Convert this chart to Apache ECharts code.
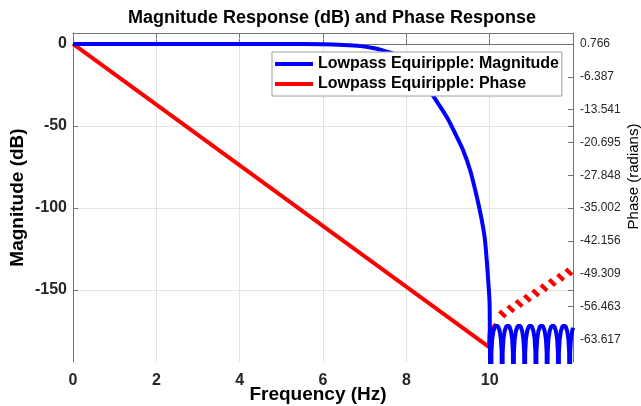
<!DOCTYPE html>
<html><head><meta charset="utf-8">
<script src="https://cdn.jsdelivr.net/npm/echarts@6/dist/echarts.min.js"></script>
<style>html,body{margin:0;padding:0;background:#fff}#c{width:641px;height:406px}</style>
</head><body><div id="c"></div>
<script>
// ---- data ----
const passFreq = [0,1,2,3,4,5,5.5,6.0,6.5,6.9,7.2,7.4,7.6,7.85,8.1,8.35,8.64,8.97,9.2,9.36,9.53,9.69,9.8,9.88,9.93,9.97,10.0,10.03];
const passDb = [0,0,0,0,0,0,0,-0.1,-0.6,-1.3,-2.4,-3.6,-5.2,-7.5,-12,-20,-31.5,-44.5,-56,-64.6,-76.8,-93,-106,-118,-132,-146,-160,-300];
const stopFreq = [10.03,10.042,10.06,10.09,10.13,10.165,10.2,10.24,10.27,10.288,
  10.30,10.312,10.33,10.36,10.40,10.435,10.47,10.51,10.54,10.558,
  10.57,10.582,10.60,10.63,10.67,10.705,10.74,10.78,10.81,10.828,
  10.84,10.852,10.87,10.90,10.94,10.975,11.01,11.05,11.08,11.098,
  11.11,11.122,11.14,11.17,11.21,11.245,11.28,11.32,11.35,11.368,
  11.38,11.392,11.41,11.44,11.48,11.515,11.55,11.59,11.62,11.638,
  11.65,11.662,11.68,11.71,11.75,11.785,11.82,11.86,11.89,11.908,
  11.92,11.932,11.95,11.98,12.0];
const stopDb = [-300,-188,-180,-175,-172,-171,-172,-175,-180,-188,
  -300,-188,-180,-175,-172,-171,-172,-175,-180,-188,
  -300,-188,-180,-175,-172,-171,-172,-175,-180,-188,
  -300,-188,-180,-175,-172,-171,-172,-175,-180,-188,
  -300,-188,-180,-175,-172,-171,-172,-175,-180,-188,
  -300,-188,-180,-175,-172,-171,-172,-175,-180,-188,
  -300,-188,-180,-175,-172,-171,-172,-175,-180,-188,
  -300,-188,-180,-175,-173];
const phaseFreq = [0,9.98,10.0,10.15,10.2,
  10.235,10.385,10.41,10.434,10.584,10.61,10.633,10.783,10.81,10.832,10.982,11.0,
  11.031,11.181,11.2,11.23,11.38,11.4,11.429,11.579,11.6,11.628,11.778,11.8,11.827,11.977];
const phaseRad = [0.766,-65.3,-62.0,-60.3,null,
  -57.47,-58.77,null,-56.325,-57.625,null,-55.18,-56.48,null,-54.035,-55.335,null,
  -52.89,-54.19,null,-51.745,-53.045,null,-50.6,-51.9,null,-49.455,-50.755,null,-48.31,-49.61];
const magTicks = [0,-50,-100,-150];
const phaseTicks = [0.766,-6.387,-13.541,-20.695,-27.848,-35.002,-42.156,-49.309,-56.463,-63.617];
const magName = 'Lowpass Equiripple: Magnitude';
const phaseName = 'Lowpass Equiripple: Phase';

// ---- chart ----
const FONT = '"Liberation Sans", Arial, Helvetica, sans-serif';
const AX = '#737373';
const TXT = '#262626';
const chart = echarts.init(document.getElementById('c'), null, {renderer: 'canvas'});
const passData = passFreq.map((f, i) => [f, passDb[i]]);
const stopData = stopFreq.map((f, i) => [f, stopDb[i]]);
const phaseData = phaseFreq.map((f, i) => [f, phaseRad[i] === null ? '-' : phaseRad[i]]);
const mirrorTicks = magTicks.map(v => 0.766 + v * 0.35768);

chart.setOption({
  animation: false,
  textStyle: {fontFamily: FONT},
  title: {
    text: 'Magnitude Response (dB) and Phase Response',
    left: 327, top: 4, textAlign: 'center',
    textStyle: {fontFamily: FONT, fontSize: 18, fontWeight: 'bold', color: '#000'}
  },
  legend: {
    data: [magName, phaseName],
    orient: 'vertical', left: 272, top: 52,
    padding: [2, 3, 2, 3], itemGap: 0,
    icon: 'rect', itemWidth: 38, itemHeight: 4,
    backgroundColor: '#fff', borderColor: '#a0a0a0', borderWidth: 1,
    textStyle: {fontFamily: FONT, fontSize: 16, fontWeight: 'bold', color: '#000', lineHeight: 20}
  },
  grid: {left: 73, right: 68, top: 33, bottom: 44, containLabel: false, outerBoundsMode: 'none'},
  xAxis: [{
    type: 'value', min: 0, max: 12, interval: 2,
    name: 'Frequency (Hz)', nameLocation: 'middle', nameGap: 23, nameMoveOverlap: false,
    nameTextStyle: {fontFamily: FONT, fontSize: 19, fontWeight: 'bold', color: '#000', padding: [0, 10, 0, 0]},
    axisLine: {show: true, lineStyle: {color: AX}},
    axisTick: {show: true, inside: true, length: 5, lineStyle: {color: AX}},
    axisLabel: {showMaxLabel: false, margin: 11, fontFamily: FONT, fontSize: 16, fontWeight: 'bold', color: TXT},
    splitLine: {show: true, lineStyle: {color: '#e3e3e3', width: 1}}
  }, {
    type: 'value', min: 0, max: 12, interval: 2, position: 'top',
    axisLine: {show: true, onZero: false, lineStyle: {color: AX}},
    axisTick: {show: true, inside: true, length: 5, lineStyle: {color: AX}},
    axisLabel: {show: false}, splitLine: {show: false}
  }],
  yAxis: [{
    type: 'value', min: -193.9, max: 6.7, position: 'left',
    name: 'Magnitude (dB)', nameLocation: 'middle', nameGap: 46, nameMoveOverlap: false,
    nameTextStyle: {fontFamily: FONT, fontSize: 19, fontWeight: 'bold', color: '#000'},
    axisLine: {show: true, onZero: false, lineStyle: {color: AX}},
    axisTick: {show: true, inside: true, length: 5, customValues: magTicks, lineStyle: {color: AX}},
    axisLabel: {customValues: magTicks, margin: 6, fontFamily: FONT, fontSize: 16, fontWeight: 'bold', color: TXT},
    splitLine: {show: true, lineStyle: {color: '#e3e3e3', width: 1}}
  }, {
    type: 'value', min: -68.59, max: 3.162, position: 'right',
    name: 'Phase (radians)', nameLocation: 'middle', nameGap: 53, nameRotate: 90, nameMoveOverlap: false,
    nameTextStyle: {fontFamily: FONT, fontSize: 15, color: '#000', padding: [0, 0, 0, 42]},
    axisLine: {show: true, onZero: false, lineStyle: {color: AX}},
    axisTick: {show: true, inside: true, length: 5, customValues: phaseTicks.concat(mirrorTicks), lineStyle: {color: AX}},
    axisLabel: {customValues: phaseTicks, margin: 7, fontFamily: FONT, fontSize: 12, color: TXT,
      formatter: v => v.toFixed(3)},
    splitLine: {show: false}
  }],
  series: [{
    name: magName, type: 'line', xAxisIndex: 0, yAxisIndex: 0,
    data: passData, showSymbol: false, symbol: 'none', clip: true, smooth: 0.3,
    lineStyle: {color: '#0000ff', width: 4}, itemStyle: {color: '#0000ff'}, z: 3
  }, {
    name: magName, type: 'line', xAxisIndex: 0, yAxisIndex: 0,
    data: stopData, showSymbol: false, symbol: 'none', clip: true,
    lineStyle: {color: '#0000ff', width: 4}, itemStyle: {color: '#0000ff'}, z: 3
  }, {
    name: phaseName, type: 'line', xAxisIndex: 0, yAxisIndex: 1,
    data: phaseData, showSymbol: false, symbol: 'none', clip: true, connectNulls: false,
    lineStyle: {color: '#ff0000', width: 4}, itemStyle: {color: '#ff0000'}, z: 2
  }]
});
</script>
</body></html>
